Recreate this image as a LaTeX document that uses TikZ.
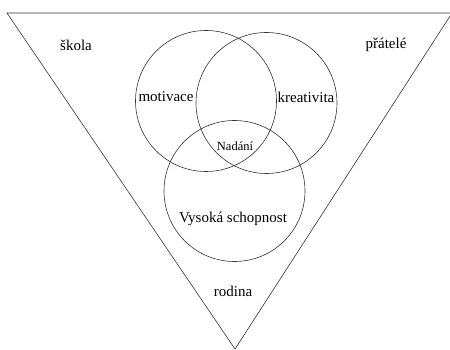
\documentclass[tikz,border=0pt]{standalone}
\usepackage{fontspec}
\setmainfont{Liberation Serif}

\tikzset{
    kruh/.style={circle, draw=black!80, line width=0.6pt, minimum size=141pt, inner sep=0pt},
    popis/.style={font=\fontsize{15}{17}\selectfont, inner sep=1pt},
    malypopis/.style={font=\fontsize{12.5}{14}\selectfont, inner sep=1pt}
}

\begin{document}
\begin{tikzpicture}[x=1pt, y=-1pt]
    \useasboundingbox (0,0) rectangle (450,350);

    % Draw the outer triangle
    \coordinate (levy) at (7,13);
    \coordinate (pravy) at (452,13);
    \coordinate (spodek) at (235,349);
    \draw[black!80, line width=0.6pt] (levy) -- (pravy) -- (spodek) -- cycle;

    % Draw the three circles
    \node[kruh] (motivkruh) at (206,101) {};
    \node[kruh] (kreativkruh) at (266.5,103) {};
    \node[kruh] (schopkruh) at (234.5,191) {};

    % Labels inside the circles
    \node[popis] (motivace) at (166,97) {motivace};
    \node[popis] (kreativita) at (306,97) {kreativita};
    \node[malypopis] (nadani) at (235,146) {Nadání};
    \node[popis] (schopnost) at (233,219) {Vysoká schopnost};

    % Labels in the triangle
    \node[popis] (skola) at (76,45) {škola};
    \node[popis] (pratele) at (386,45) {přátelé};
    \node[popis] (rodina) at (233,291) {rodina};

\end{tikzpicture}
\end{document}
